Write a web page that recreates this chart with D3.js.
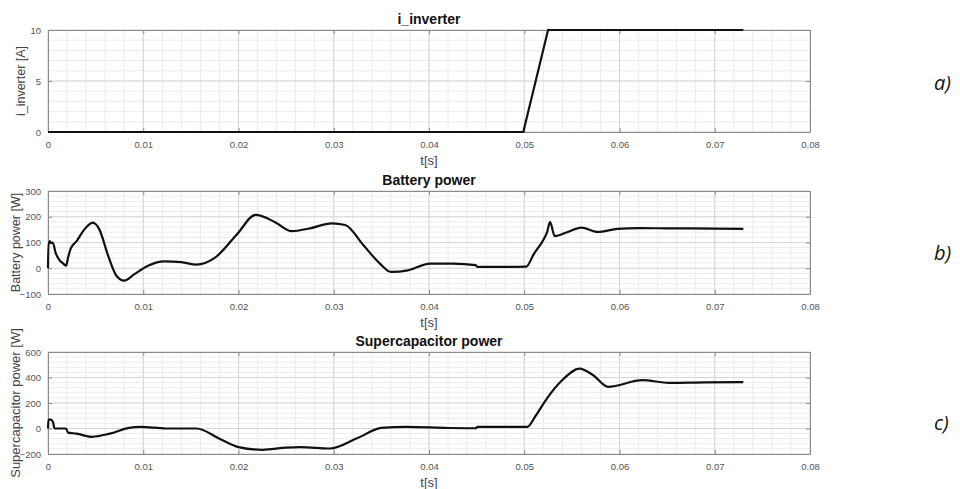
<!DOCTYPE html>
<html>
<head>
<meta charset="utf-8">
<script src="https://cdn.jsdelivr.net/npm/d3@7"></script>
<style>
  body { margin: 0; background: #fff; }
  svg { display: block; }
</style>
</head>
<body>
<svg id="chart" width="960" height="489"></svg>
<script>
// time axis ticks (shared)
var tTicks = [0, 0.01, 0.02, 0.03, 0.04, 0.05, 0.06, 0.07, 0.08];

// a) inverter current
var invT = [0, 0.0499, 0.0525, 0.073];
var invV = [0, 0, 10, 10];
var invTicks = [0, 5, 10];

// b) battery power
var batT = [0, 0.00005, 0.0001, 0.0002, 0.0003, 0.0005, 0.0008, 0.0012, 0.0016, 0.0019, 0.0021, 0.0024, 0.0030, 0.0038, 0.0047, 0.0054, 0.0063, 0.0072, 0.0080, 0.0090, 0.0105, 0.0122, 0.0140, 0.0156, 0.0175, 0.0198, 0.0218, 0.0238, 0.0256, 0.0275, 0.0298, 0.0312, 0.0331, 0.0348, 0.0360, 0.0378, 0.0401, 0.0425, 0.0449, 0.0451, 0.0480, 0.0502, 0.0510, 0.0520, 0.0524, 0.0527, 0.0532, 0.0545, 0.0560, 0.0577, 0.0598, 0.0620, 0.0650, 0.0700, 0.0730];
var batV = [0, 100, 95, 105, 98, 100, 60, 32, 18, 10, 40, 78, 105, 150, 177, 150, 50, -30, -48, -25, 10, 27, 24, 14, 40, 130, 207, 180, 144, 155, 174, 168, 90, 20, -14, -8, 18, 18, 12, 5, 5, 6, 55, 110, 140, 180, 125, 140, 158, 141, 153, 156, 155, 154, 153];
var batTicks = [-100, 0, 100, 200, 300];

// c) supercapacitor power
var scT = [0, 0.00005, 0.0003, 0.0005, 0.0007, 0.0019, 0.0021, 0.0030, 0.0046, 0.0065, 0.0085, 0.0097, 0.0124, 0.0156, 0.0180, 0.0200, 0.0225, 0.0250, 0.0265, 0.0296, 0.0325, 0.0350, 0.0376, 0.0420, 0.0449, 0.0451, 0.0503, 0.0512, 0.0523, 0.0540, 0.0558, 0.0572, 0.0588, 0.0624, 0.0652, 0.0690, 0.0730];
var scV = [0, 70, 70, 55, 0, 0, -32, -40, -65, -40, 5, 13, 0, 0, -80, -146, -167, -150, -146, -157, -75, 5, 13, 4, 2, 12, 13, 100, 227, 380, 470, 420, 327, 379, 358, 362, 363];
var scTicks = [-200, 0, 200, 400, 600];

var panels = [
  { t: invT, v: invV, ticks: invTicks, dom: [0, 10], minor: 1, title: "i_inverter", ylab: "i_inverter [A]", top: 30, bottom: 132, tag: "a)", tagY: 90, lx: 25, curve: d3.curveLinear },
  { t: batT, v: batV, ticks: batTicks, dom: [-100, 300], minor: 20, title: "Battery power", ylab: "Battery power [W]", top: 191, bottom: 294, tag: "b)", tagY: 260, lx: 20, curve: d3.curveMonotoneX },
  { t: scT, v: scV, ticks: scTicks, dom: [-200, 600], minor: 40, title: "Supercapacitor power", ylab: "Supercapacitor power [W]", top: 352, bottom: 454, tag: "c)", tagY: 430, lx: 20, curve: d3.curveMonotoneX }
];

var svg = d3.select("#chart");
var left = 48, right = 810;
var x = d3.scaleLinear().domain([0, 0.08]).range([left, right]);
var xMinor = d3.range(0, 0.0801, 0.002);
var font = "Liberation Sans, Arial, sans-serif";

panels.forEach(function(p) {
  var y = d3.scaleLinear().domain(p.dom).range([p.bottom, p.top]);
  var g = svg.append("g");
  var yMinor = d3.range(p.dom[0], p.dom[1] + 0.001, p.minor);

  // minor grid
  g.selectAll(".mx").data(xMinor).enter().append("line")
    .attr("x1", d => x(d)).attr("x2", d => x(d))
    .attr("y1", p.top).attr("y2", p.bottom)
    .attr("stroke", "#ececec").attr("stroke-width", 1);
  g.selectAll(".my").data(yMinor).enter().append("line")
    .attr("x1", left).attr("x2", right)
    .attr("y1", d => y(d)).attr("y2", d => y(d))
    .attr("stroke", "#ececec").attr("stroke-width", 1);
  // major grid
  g.selectAll(".gx").data(tTicks).enter().append("line")
    .attr("x1", d => x(d)).attr("x2", d => x(d))
    .attr("y1", p.top).attr("y2", p.bottom)
    .attr("stroke", "#d6d6d6").attr("stroke-width", 1);
  g.selectAll(".gy").data(p.ticks).enter().append("line")
    .attr("x1", left).attr("x2", right)
    .attr("y1", d => y(d)).attr("y2", d => y(d))
    .attr("stroke", "#d6d6d6").attr("stroke-width", 1);

  // axes (ticks inward, MATLAB-like box)
  var xb = g.append("g").attr("transform", "translate(0," + p.bottom + ")")
    .call(d3.axisBottom(x).tickValues(tTicks).tickSizeInner(-4).tickSizeOuter(0).tickPadding(9)
      .tickFormat(d => d === 0 ? "0" : d3.format(".2f")(d)));
  var xt = g.append("g").attr("transform", "translate(0," + p.top + ")")
    .call(d3.axisTop(x).tickValues(tTicks).tickSizeInner(-4).tickSizeOuter(0).tickFormat(""));
  var yl = g.append("g").attr("transform", "translate(" + left + ",0)")
    .call(d3.axisLeft(y).tickValues(p.ticks).tickSizeInner(-4).tickSizeOuter(0).tickPadding(7));
  var yr = g.append("g").attr("transform", "translate(" + right + ",0)")
    .call(d3.axisRight(y).tickValues(p.ticks).tickSizeInner(-4).tickSizeOuter(0).tickFormat(""));
  [xb, xt, yl, yr].forEach(function(a) {
    a.select(".domain").attr("stroke", "#8a8a8a");
    a.selectAll(".tick line").attr("stroke", "#8a8a8a");
    a.selectAll("text").attr("fill", "#555").style("font-family", font).style("font-size", "9.5px");
  });

  // data line
  var line = d3.line().x((d, i) => x(p.t[i])).y(d => y(d)).curve(p.curve);
  g.append("path").datum(p.v).attr("d", line)
    .attr("fill", "none").attr("stroke", "#111").attr("stroke-width", 2.2);

  // labels
  g.append("text").attr("x", (left + right) / 2).attr("y", p.top - 6)
    .attr("text-anchor", "middle").style("font-family", font)
    .style("font-size", "14px").style("font-weight", "bold").attr("fill", "#111").text(p.title);
  g.append("text").attr("x", (left + right) / 2).attr("y", p.bottom + 33)
    .attr("text-anchor", "middle").style("font-family", font)
    .style("font-size", "13px").attr("fill", "#444").text("t[s]");
  g.append("text").attr("transform", "translate(" + p.lx + "," + ((p.top + p.bottom) / 2) + ") rotate(-90)")
    .attr("text-anchor", "middle").style("font-family", font)
    .style("font-size", p.ylab.length > 20 ? "13px" : "12.5px").attr("fill", "#444").text(p.ylab);
  g.append("text").attr("x", 934).attr("y", p.tagY)
    .style("font-family", "Open Sans, sans-serif").style("font-style", "italic")
    .style("font-size", "20px").attr("fill", "#111").text(p.tag);
});
</script>
</body>
</html>
